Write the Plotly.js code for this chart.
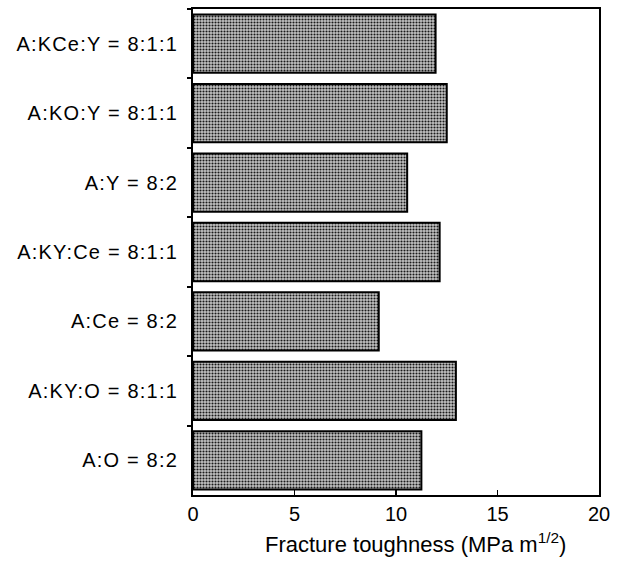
<!DOCTYPE html>
<html>
<head>
<meta charset="utf-8">
<script src="https://cdn.plot.ly/plotly-3.0.1.min.js"></script>
<style>
html,body{margin:0;padding:0;background:#fff;}
#chart{width:622px;height:561px;}
#chart .ytick text{letter-spacing:1.2px;}
</style>
</head>
<body>
<div id="chart"></div>
<script>
var categories = ["A:KCe:Y = 8:1:1", "A:KO:Y = 8:1:1", "A:Y = 8:2", "A:KY:Ce = 8:1:1", "A:Ce = 8:2", "A:KY:O = 8:1:1", "A:O = 8:2"];
var toughness = [11.95, 12.5, 10.55, 12.15, 9.15, 12.95, 11.25];
var xTicks = [0, 5, 10, 15, 20];
var xTitle = 'Fracture toughness (MPa m<sup>1/2</sup>)';

var trace = {
  type: 'bar',
  orientation: 'h',
  x: toughness,
  y: categories,
  marker: {
    color: '#a8a8a8',
    pattern: {shape: '.', fgcolor: '#1a1a1a', bgcolor: '#c4c4c4', size: 3, solidity: 0.4},
    line: {color: '#000', width: 2}
  },
  hoverinfo: 'x+y'
};

var layout = {
  width: 622, height: 561,
  margin: {l: 193, r: 23, t: 9, b: 66},
  paper_bgcolor: '#fff', plot_bgcolor: '#fff',
  bargap: 0.16,
  showlegend: false,
  font: {family: 'Liberation Sans, Arial, sans-serif', size: 20, color: '#000'},
  xaxis: {
    range: [0, 20],
    tickvals: xTicks,
    ticktext: xTicks.map(String),
    ticks: 'inside', ticklen: 5, tickwidth: 1.5, tickcolor: '#000',
    showline: true, linecolor: '#000', linewidth: 2, mirror: true,
    showgrid: false, zeroline: false,
    tickfont: {size: 20}
  },
  yaxis: {
    type: 'category',
    autorange: 'reversed',
    ticks: 'outside', tickson: 'boundaries', ticklen: 4, tickwidth: 2, tickcolor: '#000',
    showline: true, linecolor: '#000', linewidth: 2, mirror: true,
    showgrid: false, zeroline: false,
    ticklabelstandoff: 9,
    tickfont: {size: 20}
  },
  annotations: [{
    text: xTitle, xref: 'paper', yref: 'paper',
    x: 0.547, y: -0.099, xanchor: 'center', yanchor: 'middle',
    showarrow: false, font: {size: 22}
  }]
};

Plotly.newPlot('chart', [trace], layout, {displayModeBar: false, staticPlot: true});
</script>
</body>
</html>
